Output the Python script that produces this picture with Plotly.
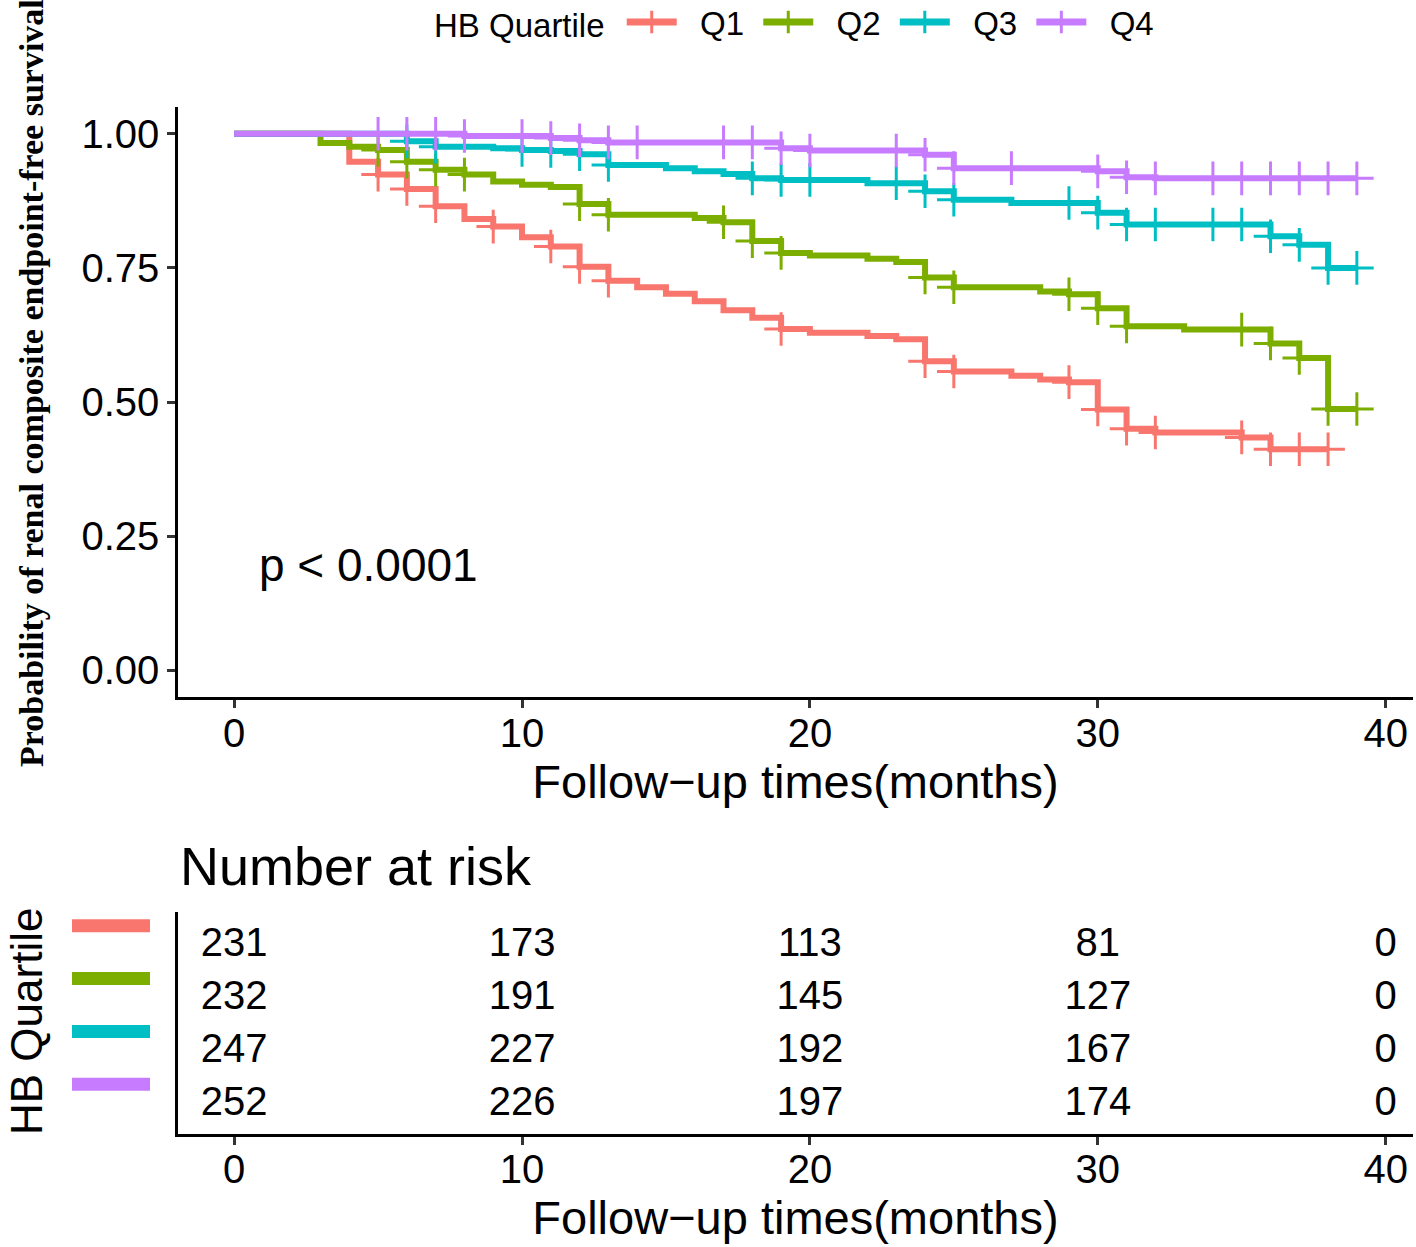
import plotly.graph_objects as go

# ---------------- data ----------------
groups = ["Q1", "Q2", "Q3", "Q4"]
colors = ["#F8766D", "#7CAE00", "#00BFC4", "#C77CFF"]

months_q1 = list(range(0, 39))
surv_q1 = [1.0, 1.0, 1.0, 1.0, 0.948, 0.924, 0.897, 0.865, 0.841, 0.827,
           0.807, 0.790, 0.752, 0.726, 0.714, 0.702, 0.688, 0.671, 0.657, 0.636,
           0.629, 0.629, 0.623, 0.617, 0.576, 0.557, 0.557, 0.549, 0.542, 0.537,
           0.486, 0.450, 0.443, 0.443, 0.443, 0.434, 0.412, 0.412, 0.412]
censor_q1 = [5, 6, 7, 9, 11, 12, 13, 19, 24, 25, 29, 30, 31, 32, 35, 36, 37, 38]

months_q2 = list(range(0, 40))
surv_q2 = [1.0, 1.0, 1.0, 0.983, 0.976, 0.970, 0.948, 0.933, 0.924, 0.911,
           0.905, 0.901, 0.869, 0.849, 0.849, 0.849, 0.843, 0.835, 0.800, 0.778,
           0.773, 0.773, 0.767, 0.761, 0.732, 0.714, 0.714, 0.714, 0.706, 0.701,
           0.675, 0.641, 0.641, 0.635, 0.635, 0.635, 0.609, 0.582, 0.487, 0.487]
censor_q2 = [5, 6, 7, 8, 12, 13, 17, 18, 19, 24, 25, 29, 30, 31, 35, 36, 37, 38, 39]

months_q3 = list(range(0, 40))
surv_q3 = [1.0, 1.0, 1.0, 1.0, 1.0, 1.0, 0.986, 0.976, 0.976, 0.973,
           0.970, 0.968, 0.962, 0.942, 0.942, 0.936, 0.930, 0.925, 0.917, 0.914,
           0.914, 0.914, 0.908, 0.908, 0.893, 0.877, 0.877, 0.871, 0.871, 0.871,
           0.853, 0.831, 0.831, 0.831, 0.831, 0.831, 0.809, 0.793, 0.750, 0.750]
censor_q3 = [6, 7, 10, 11, 12, 13, 18, 19, 20, 23, 24, 25, 29, 30, 31, 32, 34, 35, 36, 37, 38, 39]

months_q4 = list(range(0, 40))
surv_q4 = [1.0, 1.0, 1.0, 1.0, 1.0, 1.0, 1.0, 1.0, 0.996, 0.996,
           0.996, 0.992, 0.988, 0.984, 0.984, 0.984, 0.984, 0.984, 0.984, 0.973,
           0.969, 0.969, 0.969, 0.969, 0.961, 0.936, 0.936, 0.936, 0.936, 0.936,
           0.930, 0.919, 0.917, 0.917, 0.917, 0.917, 0.917, 0.917, 0.917, 0.917]
censor_q4 = [5, 6, 7, 8, 10, 11, 12, 13, 14, 17, 18, 19, 20, 23, 24, 25, 27, 30, 31, 32, 34, 35, 36, 37, 38, 39]

risk_times = [0, 10, 20, 30, 40]
risk_q1 = [231, 173, 113, 81, 0]
risk_q2 = [232, 191, 145, 127, 0]
risk_q3 = [247, 227, 192, 167, 0]
risk_q4 = [252, 226, 197, 174, 0]

x_ticks = [0, 10, 20, 30, 40]
y_ticks = [0.0, 0.25, 0.5, 0.75, 1.0]
y_ticklabels = ["0.00", "0.25", "0.50", "0.75", "1.00"]

# ---------------- figure ----------------
W, H = 1416, 1247
L, R, T, B = 178, 3, 107, 113
plot_w = W - L - R
plot_h = H - T - B
main_bottom = (1134 - 697) / plot_h
table_top = (1134 - 912) / plot_h

FONT = "Liberation Sans, Arial, sans-serif"
NB = "\u00a0"

fig = go.Figure()

series = [
    (months_q1, surv_q1, censor_q1),
    (months_q2, surv_q2, censor_q2),
    (months_q3, surv_q3, censor_q3),
    (months_q4, surv_q4, censor_q4),
]

for g, c, (mt, sv, cen) in zip(groups, colors, series):
    fig.add_trace(go.Scatter(
        x=mt, y=sv, mode="lines", line=dict(color=c, width=6, shape="hv"),
        name=g, legendgroup=g, showlegend=False, xaxis="x", yaxis="y",
        hoverinfo="skip"))
    cy = [sv[mt.index(t)] for t in cen]
    fig.add_trace(go.Scatter(
        x=cen, y=cy, mode="markers",
        marker=dict(symbol="cross-thin", size=24, color=c,
                    line=dict(color=c, width=3)),
        name=g, legendgroup=g, showlegend=False, xaxis="x", yaxis="y",
        hoverinfo="skip"))
    # legend entry
    fig.add_trace(go.Scatter(
        x=[None], y=[None], mode="lines+markers",
        line=dict(color=c, width=7),
        marker=dict(symbol="cross-thin", size=22, color=c,
                    line=dict(color=c, width=3)),
        name=NB * 2 + g + NB, legendgroup=g, showlegend=True,
        xaxis="x", yaxis="y"))

# risk table
risk_rows = [risk_q1, risk_q2, risk_q3, risk_q4]
row_pos = [4, 3, 2, 1]
for vals, yp in zip(risk_rows, row_pos):
    fig.add_trace(go.Scatter(
        x=risk_times, y=[yp] * len(risk_times), mode="text",
        text=[str(v) for v in vals], textposition="middle center",
        textfont=dict(family=FONT, size=40, color="black"),
        showlegend=False, xaxis="x2", yaxis="y2", hoverinfo="skip"))

axis_common = dict(showline=True, linecolor="black", linewidth=2.5,
                   ticks="outside", ticklen=8, tickwidth=2.5, tickcolor="#333333",
                   showgrid=False, zeroline=False,
                   tickfont=dict(family=FONT, size=40, color="black"))

shift = 0.05
fig.update_layout(
    width=W, height=H,
    margin=dict(l=L, r=R, t=T, b=B, autoexpand=False),
    paper_bgcolor="white", plot_bgcolor="white",
    xaxis=dict(domain=[0, 1], range=[-1.95, 40.95], tickvals=x_ticks,
               anchor="y", ticklabelstandoff=-9,
               title=dict(text="Follow\u2212up times(months)", standoff=6,
                          font=dict(family=FONT, size=47, color="black")),
               **axis_common),
    yaxis=dict(domain=[main_bottom, 1], range=[-0.05, 1.05], tickvals=y_ticks,
               ticktext=y_ticklabels, anchor="x", **axis_common),
    xaxis2=dict(domain=[0, 1], range=[-1.95, 40.95], tickvals=x_ticks,
                anchor="y2", ticklabelstandoff=-10,
                title=dict(text="Follow\u2212up times(months)", standoff=6,
                           font=dict(family=FONT, size=47, color="black")),
                **axis_common),
    yaxis2=dict(domain=[0, table_top], range=[0.4 + shift, 4.6 + shift], anchor="x2",
                showline=True, linecolor="black", linewidth=2.5,
                showticklabels=False, ticks="", showgrid=False, zeroline=False),
    legend=dict(orientation="h", x=(432 - L) / plot_w, xanchor="left",
                y=1 + (107 - 22) / plot_h, yanchor="middle",
                title=dict(text="HB Quartile" + NB, side="left",
                           font=dict(family=FONT, size=33, color="black")),
                font=dict(family=FONT, size=33, color="black"),
                itemwidth=50, bgcolor="rgba(0,0,0,0)", tracegroupgap=0),
    showlegend=True,
)

# y-axis title of main plot (serif bold)
fig.add_annotation(
    text="<b>Probability of renal composite endpoint-free survival</b>",
    xref="paper", yref="paper",
    x=(31 - L) / plot_w, y=(1134 - 383) / plot_h,
    textangle=-90, showarrow=False, xanchor="center", yanchor="middle",
    font=dict(family="Liberation Serif, Times New Roman, serif", size=34, color="black"))

# p-value
fig.add_annotation(text="p < 0.0001", x=0.8, y=0.196, xref="x", yref="y",
                   showarrow=False, xanchor="left", yanchor="middle",
                   font=dict(family=FONT, size=46, color="black"))

# Number at risk title
fig.add_annotation(text="Number at risk", xref="paper", yref="paper",
                   x=(178 - L) / plot_w, y=(1134 - 866) / plot_h,
                   xanchor="left", yanchor="middle", showarrow=False,
                   font=dict(family=FONT, size=54, color="black"))

# risk table y title
fig.add_annotation(text="HB Quartile", xref="paper", yref="paper",
                   x=(26 - L) / plot_w, y=(1134 - 1022) / plot_h,
                   textangle=-90, showarrow=False, xanchor="center", yanchor="middle",
                   font=dict(family=FONT, size=44, color="black"))

# coloured bars as y labels of the risk table
for c, yp in zip(colors, row_pos):
    fig.add_shape(type="line", xref="paper", yref="y2",
                  x0=(72 - L) / plot_w, x1=(150 - L) / plot_w,
                  y0=yp + 0.34 + shift, y1=yp + 0.34 + shift,
                  line=dict(color=c, width=13))

fig.write_html(
    "out.html",
    config={"displayModeBar": False},
    post_script="document.body.style.margin='0px';document.body.style.overflow='hidden';",
)
